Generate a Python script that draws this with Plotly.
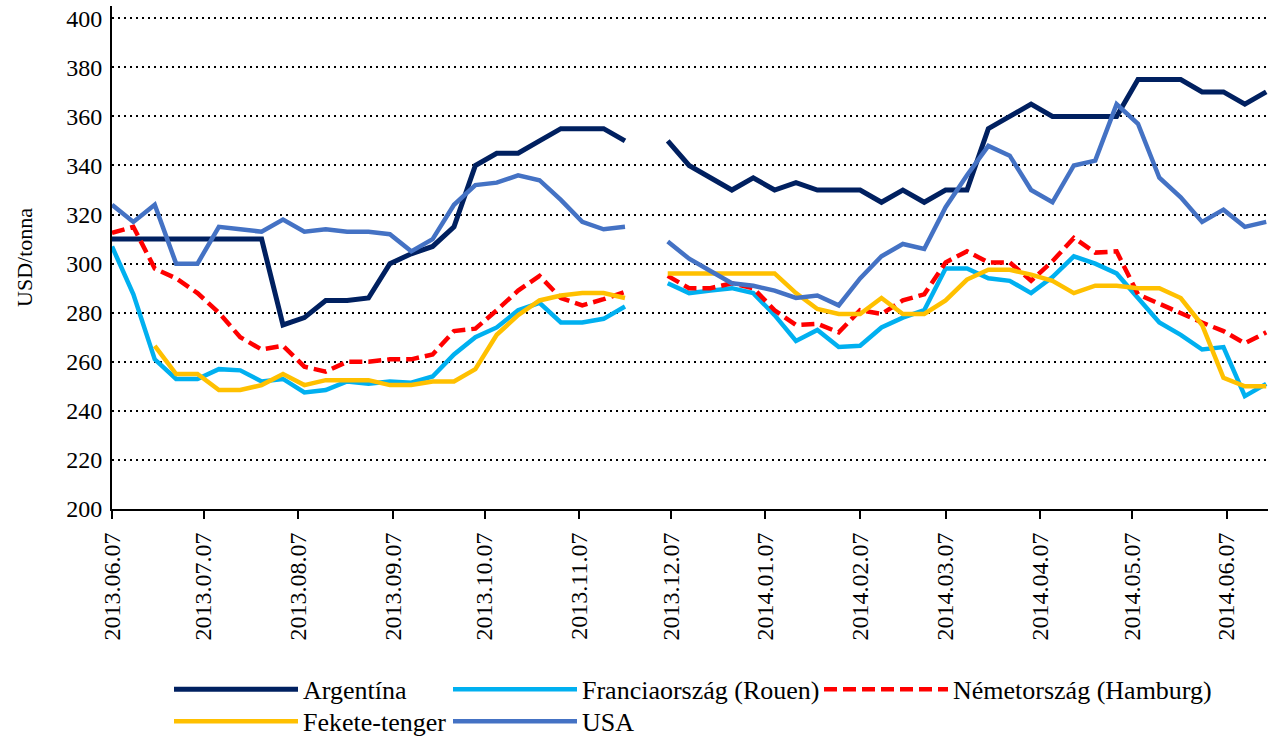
import pandas as pd
import plotly.graph_objects as go

# Weekly observation dates (Fridays), 2013-06-07 .. 2014-06-20
dates = pd.date_range("2013-06-07", periods=55, freq="7D")

N = None
argentina = [310, 310, 310, 310, 310, 310, 310, 310, 275, 278, 285, 285, 286, 300, 304,
             307, 315, 340, 345, 345, 350, 355, 355, 355, 350, N,
             350, 340, 335, 330, 335, 330, 333, 330, 330, 330, 325, 330, 325, 330, 330,
             355, 360, 365, 360, 360, 360, 360, 375, 375, 375, 370, 370, 365, 370]
franciaorszag = [307, 287.5, 261, 253, 253, 257, 256.5, 252, 253, 247.5, 248.5, 252, 251, 252, 251.5,
                 254, 263, 270, 274, 281, 284, 276, 276, 277.5, 282.5, N,
                 292, 288, 289, 290, 288, 279, 268.5, 273, 266, 266.5, 274, 278, 281, 298, 298,
                 294, 293, 288, 294.5, 303, 300, 296, 286, 276, 271, 265, 266, 246, 251]
nemetorszag = [312.5, 315, 298, 294, 288, 280, 270, 265, 266.5, 258, 256, 260, 260, 261, 261,
               263, 272.5, 273.5, 281, 289, 295, 286, 283, 285.5, 288.5, N,
               295, 290, 290, 292, 290, 281, 275, 275.5, 272, 281, 279.5, 285, 287.5, 300.5, 305,
               300.5, 300.5, 293, 301, 310.5, 304.5, 305, 287.5, 283.5, 279.5, 276, 272.5, 267.5, 272]
fekete_tenger = [N, N, 266.5, 255, 255, 248.5, 248.5, 250.5, 255, 250.5, 252.5, 252.5, 252.5, 250.5, 250.5,
                 252, 252, 257, 271, 279, 285, 287, 288, 288, 286, N,
                 296, 296, 296, 296, 296, 296, 288, 281.5, 279.5, 279.5, 286, 279.5, 279.5, 285, 293.5,
                 297.5, 297.5, 295.5, 293, 288, 291, 291, 290, 290, 286, 275, 253.5, 250, 250]
usa = [324, 317, 324, 300, 300, 315, 314, 313, 318, 313, 314, 313, 313, 312, 305,
       310, 324, 332, 333, 336, 334, 326, 317, 314, 315, N,
       309, 302, 297, 292, 291, 289, 286, 287, 283, 294, 303, 308, 306, 323, 336,
       348, 344, 330, 325, 340, 342, 365, 357, 335, 327, 317, 322, 315, 317]

tick_dates = ["2013-06-07", "2013-07-07", "2013-08-07", "2013-09-07", "2013-10-07", "2013-11-07",
              "2013-12-07", "2014-01-07", "2014-02-07", "2014-03-07", "2014-04-07", "2014-05-07",
              "2014-06-07"]
tick_labels = [d.replace("-", ".") for d in tick_dates]
y_ticks = [200, 220, 240, 260, 280, 300, 320, 340, 360, 380, 400]

FONT = "Liberation Serif, Times New Roman, serif"

# name, values, colour, dash, width, legend slot
series = [
    ("Argentína", argentina, "#002060", None, 5, "legend"),
    ("Franciaország (Rouen)", franciaorszag, "#00B0F0", None, 4.5, "legend2"),
    ("Németország (Hamburg)", nemetorszag, "#FF0000", "13px,6px", 4.5, "legend3"),
    ("Fekete-tenger", fekete_tenger, "#FFC000", None, 4.5, "legend4"),
    ("USA", usa, "#4472C4", None, 4.5, "legend5"),
]

fig = go.Figure()
for name, vals, color, dash, w, leg in series:
    line = dict(color=color, width=w)
    if dash:
        line["dash"] = dash
    fig.add_trace(go.Scatter(x=dates, y=vals, mode="lines", name=name, line=line,
                             connectgaps=False, legend=leg, showlegend=True))

W, H = 1270, 736
YMAX = 405
ML, MR, MB = 112, 2, 227
MT = 18 - (YMAX - 400) * 491 / 200
plot_w = W - ML - MR
plot_h = H - MT - MB

def px_to_x(p):  # page pixel -> paper x
    return (p - ML) / plot_w

def px_to_y(p):  # page pixel -> paper y
    return (H - MB - p) / plot_h

leg_common = dict(orientation="v", font=dict(family=FONT, size=26, color="black"),
                  itemwidth=124, bgcolor="rgba(0,0,0,0)", borderwidth=0,
                  xanchor="left", yanchor="top", tracegroupgap=0, maxheight=200)
row1, row2 = px_to_y(666), px_to_y(698)
col1, col2, col3 = px_to_x(169), px_to_x(448), px_to_x(819)

fig.update_layout(
    width=W, height=H,
    showlegend=True,
    margin=dict(l=ML, r=MR, t=MT, b=MB, autoexpand=False),
    paper_bgcolor="white", plot_bgcolor="white",
    font=dict(family=FONT, size=22, color="black"),
    legend=dict(x=col1, y=row1, **leg_common),
    legend2=dict(x=col2, y=row1, **leg_common),
    legend3=dict(x=col3, y=row1, **leg_common),
    legend4=dict(x=col1, y=row2, **leg_common),
    legend5=dict(x=col2, y=row2, **leg_common),
    xaxis=dict(
        type="date",
        range=["2013-06-07", "2014-06-20 14:00"],
        tickvals=tick_dates, ticktext=tick_labels,
        tickangle=-90,
        ticks="outside", ticklen=8, tickwidth=2, tickcolor="black",
        ticklabelstandoff=4, ticklabeloverflow="allow",
        showline=True, linecolor="black", linewidth=2,
        showgrid=False, zeroline=False, automargin=False,
        tickfont=dict(family=FONT, size=24, color="black"),
    ),
    yaxis=dict(
        range=[200, YMAX], tickvals=y_ticks,
        showgrid=True, gridcolor="black", gridwidth=1.5, griddash="2px,4px",
        showline=True, linecolor="black", linewidth=2,
        ticks="", zeroline=False, automargin=False,
        ticklabelstandoff=3, ticklabeloverflow="allow",
        tickfont=dict(family=FONT, size=24, color="black"),
        title=dict(text="USD/tonna", font=dict(family=FONT, size=22, color="black"), standoff=28),
    ),
)

fig.write_html("out.html", config={"displayModeBar": False},
               post_script="document.body.style.margin='0px';document.body.style.overflow='hidden';")
